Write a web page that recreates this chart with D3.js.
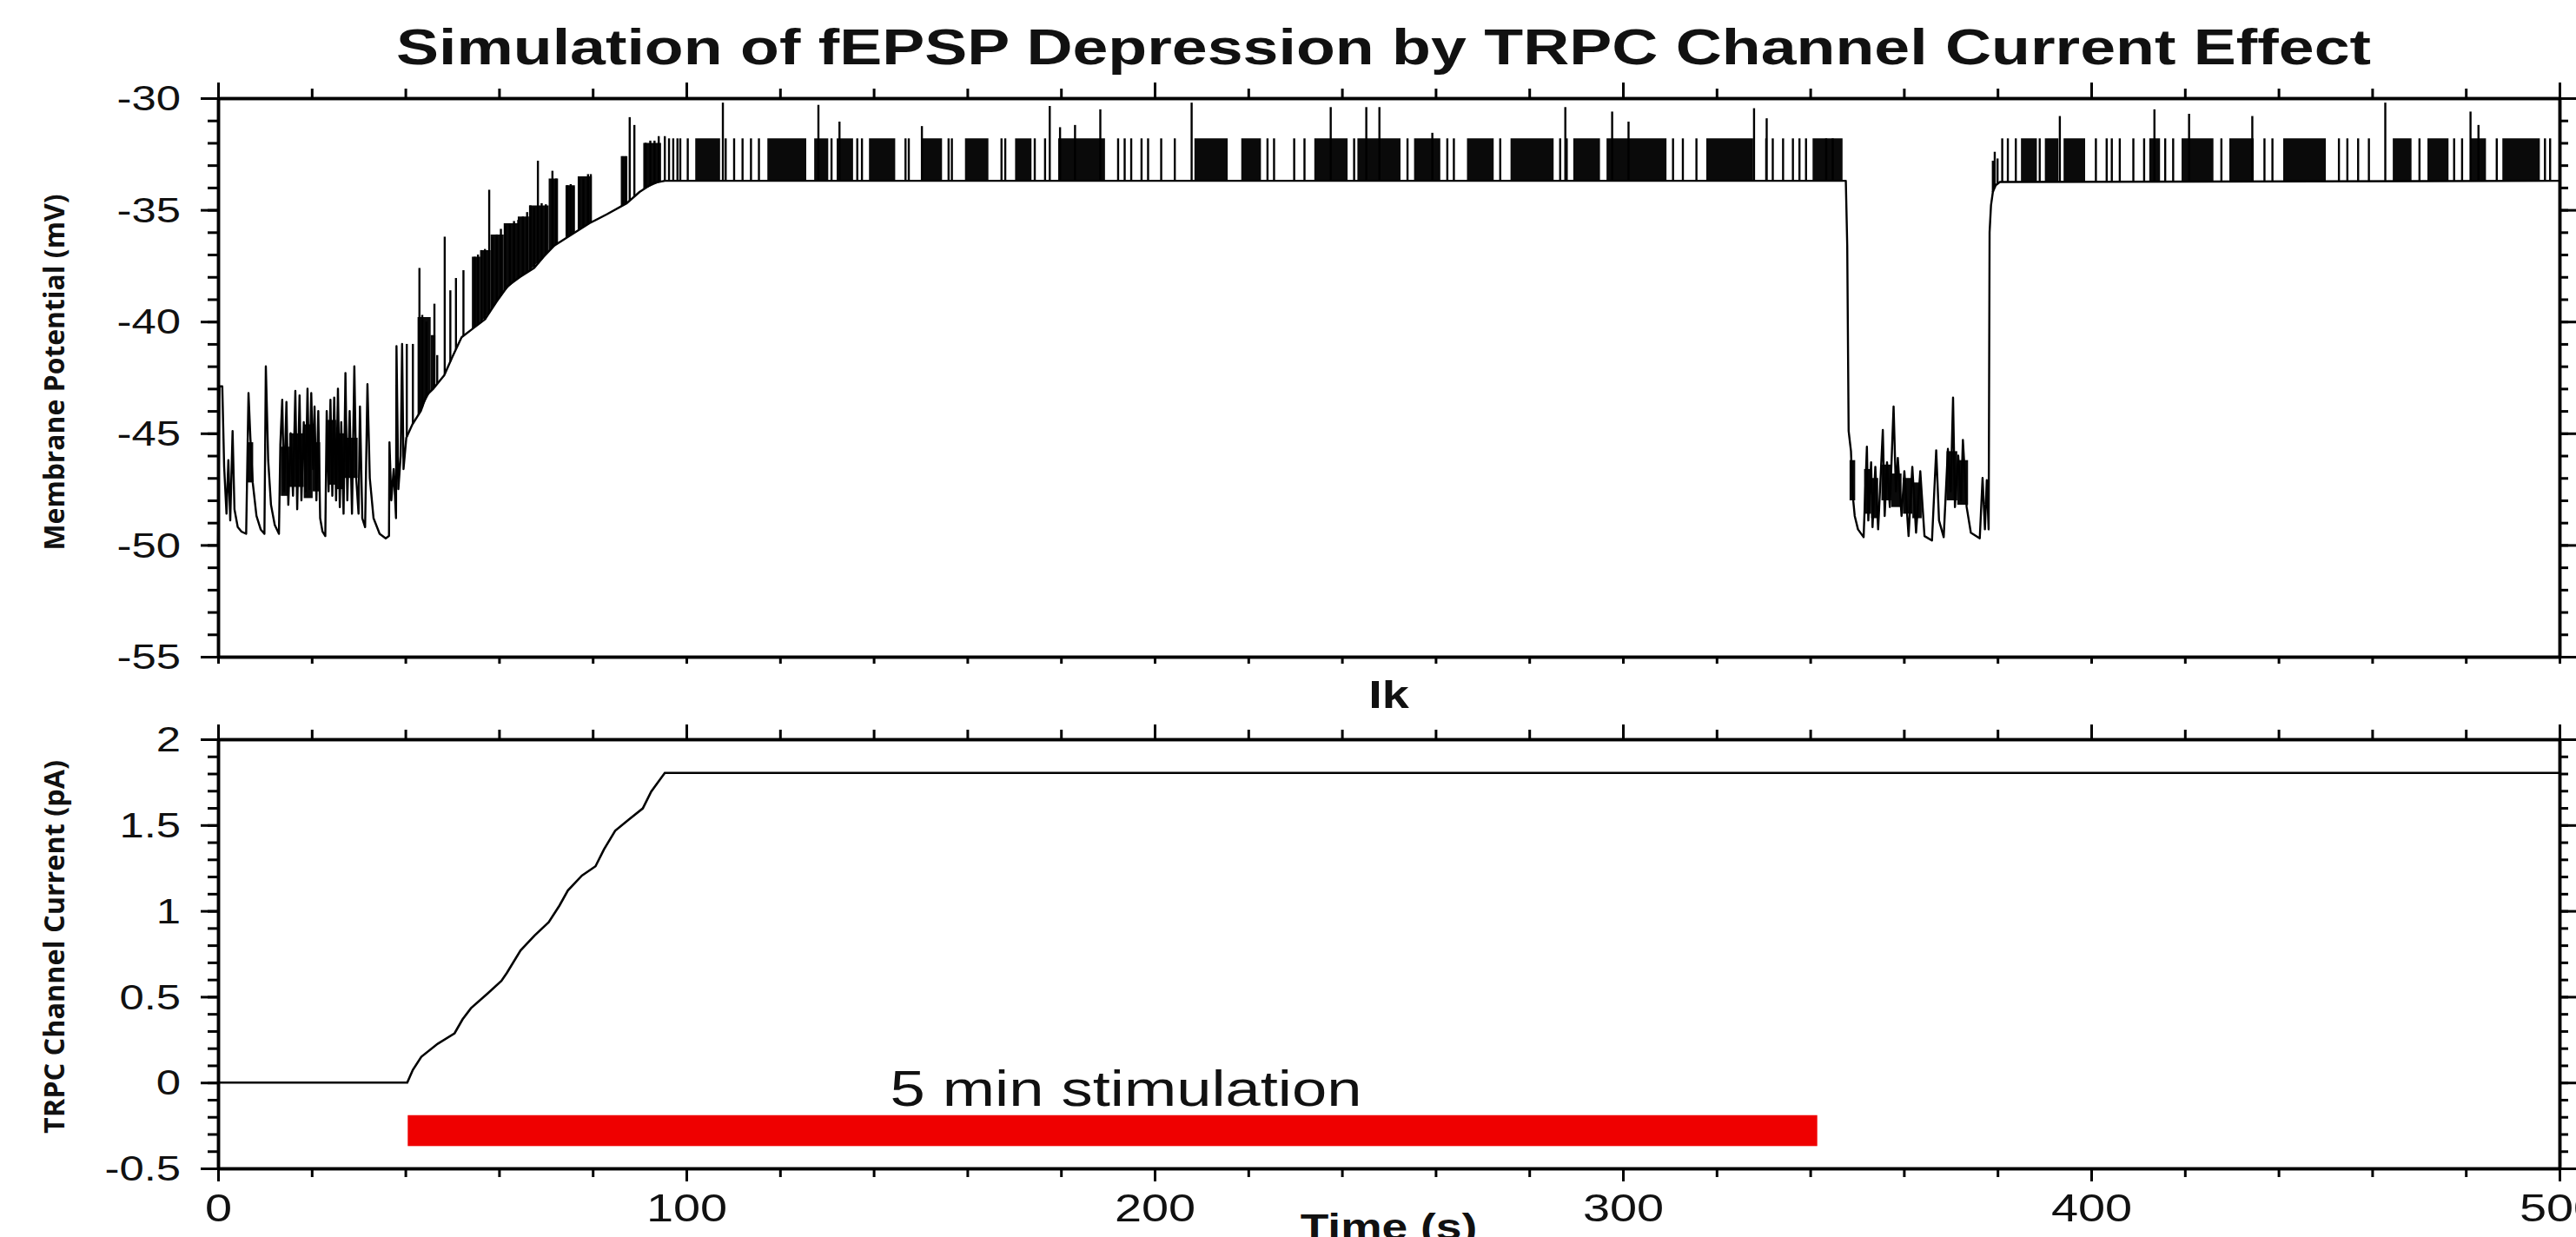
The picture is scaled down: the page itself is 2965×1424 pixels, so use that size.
<!DOCTYPE html>
<html>
<head>
<meta charset="utf-8">
<script src="https://cdn.jsdelivr.net/npm/d3@7"></script>
<style>
body { margin: 0; background: #fff; }
svg { display: block; }
</style>
</head>
<body>
<svg id="chart" width="2965" height="1424"></svg>
<script>
////  data
var titleText = "Simulation of fEPSP Depression by TRPC Channel Current Effect";
var lowerTitle = "Ik";
var xLabel = "Time (s)";
var vmLabel = "Membrane Potential (mV)";
var ikLabel = "TRPC Channel Current (pA)";
var stimLabel = "5 min stimulation";

var timeDomain = [0, 500];
var timeTicks = [0, 100, 200, 300, 400, 500];
var vmDomain = [-55, -30];
var vmTicks = [-55, -50, -45, -40, -35, -30];
var ikDomain = [-0.5, 2];
var ikTicks = [-0.5, 0, 0.5, 1, 1.5, 2];

// membrane potential: [time s, mV] - early bursting, lower envelope of the ramp,
// plateau baseline, the dip around 350-378 s and recovery
var vmTrace = [
	[0,-50.0],[0.3,-42.9],[0.9,-42.9],[1.3,-46.5],[1.8,-48.6],[2.2,-46.2],[2.6,-48.9],[3.1,-44.9],[3.5,-48.4],[4.2,-49.2],
	[5.0,-49.4],[6.0,-49.5],[6.5,-43.2],[6.9,-45.2],[7.4,-47.2],[8.2,-48.7],[9.1,-49.3],[9.9,-49.5],[10.2,-42.0],[10.7,-46.2],
	[11.3,-48.2],[12.1,-49.1],[13.0,-49.5],[13.3,-45.5],[13.7,-43.5],[14.1,-47.6],[14.6,-43.6],[15.0,-48.2],[15.5,-45.0],[16.0,-47.8],
	[16.5,-43.1],[16.9,-48.4],[17.4,-43.3],[17.8,-48.0],[18.3,-44.5],[18.7,-47.6],[19.1,-43.0],[19.5,-47.5],[19.9,-43.2],[20.3,-46.6],
	[20.6,-43.8],[21.0,-48.0],[21.4,-44.0],[21.8,-48.8],[22.3,-49.4],[22.9,-49.6],[23.2,-44.0],[23.6,-47.6],[24.0,-43.5],[24.4,-47.8],
	[24.8,-43.4],[25.2,-48.0],[25.6,-43.0],[26.0,-48.3],[26.3,-44.5],[26.8,-48.6],[27.2,-42.3],[27.6,-48.0],[28.1,-44.0],[28.6,-48.6],
	[29.1,-42.0],[29.5,-47.0],[30.0,-48.6],[30.3,-43.8],[30.8,-48.8],[31.4,-49.2],[31.9,-42.8],[32.4,-47.0],[33.2,-48.8],[34.5,-49.5],
	[35.8,-49.7],[36.5,-49.6],[36.6,-45.4],[37.0,-48.0],[37.5,-46.6],[38.0,-48.8],[38.1,-41.1],[38.5,-47.5],[39.0,-46.0],[39.3,-41.0],
	[39.6,-46.6],[40.2,-45.2],[41.5,-44.6],[43.3,-44.0],[44.5,-43.3],[46.0,-43.0],[48.3,-42.4],[50.0,-41.6],[52.0,-40.7],[54.5,-40.3],
	[57.0,-39.9],[59.5,-39.1],[61.9,-38.4],[64.5,-38.0],[67.5,-37.6],[69.5,-37.1],[71.8,-36.6],[75.5,-36.1],[79.3,-35.6],[83.0,-35.2],
	[87.3,-34.7],[90.0,-34.2],[92.9,-33.8],[95.4,-33.7],[347.6,-33.7],
	[347.9,-36.6],[348.2,-44.9],[348.7,-45.8],[349.0,-47.6],[349.5,-48.7],[350.2,-49.3],[351.4,-49.65],[352.1,-45.6],[352.4,-48.9],[353.0,-46.3],
	[353.3,-49.2],[353.9,-46.5],[354.5,-49.3],[355.5,-44.85],[355.9,-48.7],[356.4,-46.3],[357.0,-48.3],[357.8,-43.8],[358.3,-47.6],[358.7,-46.1],
	[359.5,-48.7],[360.1,-46.7],[361.0,-49.6],[361.8,-46.5],[362.6,-49.45],[363.5,-46.7],[364.4,-49.6],[366.0,-49.8],[366.9,-45.76],[367.5,-48.9],
	[368.5,-49.65],[369.4,-45.7],[370.0,-47.6],[370.5,-43.4],[370.9,-48.3],[371.6,-46.0],[372.2,-48.0],[372.6,-45.3],[373.4,-48.3],[374.3,-49.45],
	[376.2,-49.7],[376.8,-47.0],[377.3,-49.3],[377.7,-47.1],[378.1,-49.3],
	[378.3,-36.0],[378.6,-34.8],[379.0,-34.2],[379.6,-33.9],[380.5,-33.75],[500,-33.7]
];

// dense firing above the trace: [start s, end s, top mV]
var vmBursts = [
	[42.6,45.4,-39.8],[45.4,46.4,-40.6],[54.2,56.0,-37.1],[56.0,58.2,-36.8],[58.2,61.0,-36.1],[61.0,64.0,-35.6],
	[64.0,66.4,-35.3],[66.4,70.6,-34.8],[70.6,72.6,-33.6],[74.2,76.2,-33.9],[76.8,79.8,-33.5],[86.0,87.4,-32.6],[90.8,94.6,-32.0],
	[101.9,107.2,-31.8],[117.3,125.6,-31.8],[127.3,130.3,-31.8],[132.1,135.6,-31.8],[139.0,144.6,-31.8],[150.3,154.6,-31.8],
	[159.5,164.5,-31.8],[170.2,173.7,-31.8],[179.4,189.4,-31.8],[208.5,215.6,-31.8],[218.5,222.7,-31.8],[234.1,241.2,-31.8],
	[243.3,252.5,-31.8],[255.4,261.0,-31.8],[266.7,272.4,-31.8],[276.0,285.2,-31.8],[289.4,295.1,-31.8],[296.5,309.3,-31.8],
	[317.8,327.8,-31.8],[340.5,346.9,-31.8],[385.0,388.4,-31.8],[390.1,393.0,-31.8],[394.1,398.7,-31.8],[412.4,414.7,-31.8],
	[419.3,426.1,-31.8],[429.5,434.7,-31.8],[441.0,450.1,-31.8],[464.4,468.4,-31.8],[471.8,476.3,-31.8],[480.9,484.3,-31.8],
	[487.8,495.8,-31.8]
];

// dense oscillation bands in the low states: [start s, end s, low mV, high mV]
var vmBands = [
	[6.3,7.5,-47.2,-45.4],[13.4,15.2,-47.8,-45.6],[15.2,18.3,-47.4,-45.0],[18.3,20.2,-47.9,-44.6],[20.2,21.8,-47.6,-45.4],
	[23.4,25.2,-47.3,-44.4],[25.2,27.0,-47.5,-45.0],[27.0,29.8,-47.0,-45.2],
	[348.4,349.6,-48.0,-46.2],[351.5,353.0,-48.6,-46.6],[353.0,354.5,-48.8,-47.0],[355.2,357.3,-48.0,-46.4],[357.3,359.5,-48.3,-46.8],
	[359.8,361.8,-48.6,-47.0],[361.8,363.8,-48.8,-47.2],[369.1,371.4,-48.0,-45.8],[371.4,373.7,-48.2,-46.2]
];

// single spikes: [time s, peak mV]
var vmSpikes = [
	[40.3,-41.0],[41.6,-41.0],[43.0,-37.6],[43.6,-39.7],[44.5,-40.0],[46.2,-39.2],[46.8,-41.5],[48.4,-36.2],[49.6,-38.6],[50.8,-38.05],
	[52.4,-37.7],[54.8,-37.1],[55.5,-37.0],[56.2,-36.8],[57.0,-36.75],[57.9,-34.1],[58.6,-36.2],[59.5,-36.1],[60.4,-35.85],[61.3,-35.7],
	[62.3,-35.6],[63.2,-35.5],[64.1,-35.45],[65.1,-35.3],[66.0,-35.1],[66.7,-34.8],[67.5,-34.9],[68.3,-32.8],[69.1,-34.7],[70.0,-34.75],
	[71.4,-33.25],[72.2,-33.6],[74.6,-33.9],[75.3,-33.85],[75.9,-33.96],[77.1,-33.6],[78.0,-33.6],[79.0,-33.4],[79.6,-33.4],[86.4,-32.6],
	[87.0,-32.6],[87.9,-30.85],[88.9,-31.2],[91.3,-32.0],[92.3,-31.9],[93.2,-31.9],[94.1,-31.7],[95.4,-31.7],[96.3,-31.8],[97.2,-31.8],
	[98.1,-31.8],[98.7,-31.8],[100.3,-31.8],[107.8,-30.2],[108.4,-31.8],[110.2,-31.8],[112.0,-31.8],[113.8,-31.8],[115.5,-31.8],
	[128.2,-30.3],[131.0,-31.8],[132.7,-31.05],[136.5,-31.8],[137.5,-31.8],[146.8,-31.8],[147.5,-31.8],[150.3,-31.25],[156.0,-31.8],
	[156.7,-31.8],[167.3,-31.8],[168.1,-31.8],[174.4,-31.8],[176.6,-31.8],[177.6,-30.35],[179.8,-31.3],[183.0,-31.2],[188.4,-30.5],
	[192.2,-31.8],[193.6,-31.8],[195.0,-31.8],[197.2,-31.8],[198.6,-31.8],[201.4,-31.8],[204.3,-31.8],[207.9,-30.2],[224.1,-31.8],
	[225.5,-31.8],[229.8,-31.8],[232.0,-31.8],[237.6,-30.4],[242.6,-31.8],[245.2,-30.4],[248.0,-30.4],[254.0,-31.8],[259.3,-31.55],
	[262.5,-31.8],[263.9,-31.8],[273.8,-31.8],[286.6,-31.8],[287.7,-30.4],[288.0,-31.8],[297.7,-30.6],[301.2,-31.05],[310.7,-31.8],
	[312.8,-31.8],[315.7,-31.8],[328.0,-30.45],[330.6,-31.8],[330.7,-30.9],[332.0,-31.8],[334.2,-31.8],[336.3,-31.8],[337.7,-31.8],
	[339.1,-31.8],[343.4,-31.8],[344.8,-31.8],[379.0,-32.8],[379.4,-32.4],[380.0,-32.7],[381.0,-31.8],[382.2,-31.8],[383.9,-31.8],
	[389.0,-31.8],[393.3,-30.8],[401.0,-31.8],[403.3,-31.8],[404.4,-31.8],[406.1,-31.8],[409.0,-31.8],[411.3,-31.8],[413.5,-30.5],
	[415.8,-31.8],[417.5,-31.8],[420.9,-30.7],[427.8,-31.8],[434.4,-30.8],[437.0,-31.8],[438.7,-31.8],[452.9,-31.8],[454.7,-31.8],
	[457.0,-31.8],[459.3,-31.8],[462.8,-30.2],[470.1,-31.8],[477.5,-31.8],[479.2,-31.8],[481.0,-30.6],[482.7,-31.2],[486.6,-31.8],
	[496.9,-31.8],[498.0,-31.8]
];

// TRPC channel current: [time s, pA]
var ikTrace = [
	[0,0],[40.4,0],[41.6,0.074],[43.4,0.150],[46.9,0.226],[50.5,0.287],[52.2,0.368],[54.0,0.433],[57.6,0.520],[60.5,0.592],
	[61.7,0.640],[64.6,0.770],[67.6,0.857],[70.6,0.934],[72.9,1.031],[74.7,1.119],[77.7,1.206],[80.6,1.260],[82.4,1.358],
	[84.8,1.467],[87.7,1.532],[90.7,1.597],[92.5,1.695],[95.4,1.804],[500,1.804]
];

// stimulation bar: [start s, end s, low pA, high pA]; label anchor [s, pA]
var stimBar = [40.5, 341.5, -0.37, -0.19];
var stimLabelAt = [143.5, -0.136];
////

var layout = { left: 251, right: 2946, top1: 113, bottom1: 756, top2: 851, bottom2: 1345 };
var STRETCH = 1.27;
var FONT = "'Liberation Sans', Arial, sans-serif";

var svg = d3.select("#chart");

var x = d3.scaleLinear().domain(timeDomain).range([layout.left, layout.right]);
var yVm = d3.scaleLinear().domain(vmDomain).range([layout.bottom1, layout.top1]);
var yIk = d3.scaleLinear().domain(ikDomain).range([layout.bottom2, layout.top2]);

var fmt = function(d){ return String(d); };

function addAxis(gen, tx, ty, values, size, labelled){
	var g = svg.append("g")
		.attr("transform", "translate(" + tx + "," + ty + ")")
		.call(gen.tickValues(values).tickSize(size).tickSizeOuter(0).tickFormat(labelled ? fmt : ""));
	g.attr("font-family", FONT);
	g.select(".domain").attr("stroke", "#000").attr("stroke-width", 3.5);
	g.selectAll(".tick line").attr("stroke", "#000").attr("stroke-width", 3);
	return g;
}

function frame(yScale, ticks, minor, top, bottom, o){
	// left
	addAxis(d3.axisLeft(yScale), layout.left, 0, minor, 12, false);
	var lg = addAxis(d3.axisLeft(yScale), layout.left, 0, ticks, 20, true);
	lg.selectAll(".tick text")
		.attr("x", null).attr("dy", "0.34em")
		.attr("font-size", 40).attr("fill", "#111")
		.attr("transform", "translate(-43,0) scale(" + STRETCH + ",1)");
	// right
	addAxis(d3.axisRight(yScale), layout.right, 0, minor, 10, false);
	addAxis(d3.axisRight(yScale), layout.right, 0, ticks, 20, false);
	// top
	addAxis(d3.axisTop(x), 0, top, d3.range(0, 501, 20), o.topMinor, false);
	addAxis(d3.axisTop(x), 0, top, timeTicks, o.topMajor, false);
	// bottom
	addAxis(d3.axisBottom(x), 0, bottom, d3.range(0, 501, 20), o.botMinor, false);
	var bg = addAxis(d3.axisBottom(x), 0, bottom, timeTicks, o.botMajor, o.xLabels);
	if (o.xLabels) {
		bg.selectAll(".tick text")
			.attr("y", null).attr("dy", "0.71em")
			.attr("font-size", 44).attr("fill", "#111")
			.attr("transform", "translate(0,30) scale(" + STRETCH + ",1)");
	}
}

frame(yVm, vmTicks, d3.range(-55, -29.5, 1), layout.top1, layout.bottom1,
	{ topMajor: 18, topMinor: 11, botMajor: 8, botMinor: 8, xLabels: false });
frame(yIk, ikTicks, d3.range(-5, 20.5, 1).map(function(d){ return d / 10; }), layout.top2, layout.bottom2,
	{ topMajor: 17, topMinor: 11, botMajor: 15, botMinor: 10, xLabels: true });

//// membrane potential
var bis = d3.bisector(function(d){ return d[0]; }).left;
function baseAt(t){
	var i = bis(vmTrace, t);
	if (i <= 0) return vmTrace[0][1];
	if (i >= vmTrace.length) return vmTrace[vmTrace.length - 1][1];
	var a = vmTrace[i - 1], b = vmTrace[i];
	return a[1] + (b[1] - a[1]) * (t - a[0]) / (b[0] - a[0]);
}

var burstArea = d3.area()
	.x(function(d){ return x(d[0]); })
	.y0(function(d){ return yVm(d[1]); })
	.y1(function(d){ return yVm(d[2]); });

svg.append("g").selectAll("path")
	.data(vmBursts)
	.enter().append("path")
	.attr("d", function(b){
		return burstArea([[b[0], baseAt(b[0]), b[2]], [b[1], baseAt(b[1]), b[2]]]);
	})
	.attr("fill", "#0a0a0a");

svg.append("g").selectAll("rect")
	.data(vmBands)
	.enter().append("rect")
	.attr("x", function(d){ return x(d[0]); })
	.attr("width", function(d){ return x(d[1]) - x(d[0]); })
	.attr("y", function(d){ return yVm(d[3]); })
	.attr("height", function(d){ return yVm(d[2]) - yVm(d[3]); })
	.attr("fill", "#0a0a0a");

svg.append("g").selectAll("line")
	.data(vmSpikes)
	.enter().append("line")
	.attr("x1", function(d){ return x(d[0]); })
	.attr("x2", function(d){ return x(d[0]); })
	.attr("y1", function(d){ return yVm(baseAt(d[0])); })
	.attr("y2", function(d){ return yVm(d[1]); })
	.attr("stroke", "#000").attr("stroke-width", 2.4);

var vmLine = d3.line()
	.x(function(d){ return x(d[0]); })
	.y(function(d){ return yVm(d[1]); });

svg.append("path").datum(vmTrace)
	.attr("d", vmLine)
	.attr("fill", "none").attr("stroke", "#000")
	.attr("stroke-width", 2.4).attr("stroke-linejoin", "round");

//// TRPC current
var ikLine = d3.line()
	.x(function(d){ return x(d[0]); })
	.y(function(d){ return yIk(d[1]); });

svg.append("path").datum(ikTrace)
	.attr("d", ikLine)
	.attr("fill", "none").attr("stroke", "#000").attr("stroke-width", 2.6);

svg.append("rect")
	.attr("x", x(stimBar[0]))
	.attr("y", yIk(stimBar[3]))
	.attr("width", x(stimBar[1]) - x(stimBar[0]))
	.attr("height", yIk(stimBar[2]) - yIk(stimBar[3]))
	.attr("fill", "#ef0000");

svg.append("text")
	.attr("x", x(stimLabelAt[0])).attr("y", yIk(stimLabelAt[1]))
	.attr("font-family", FONT).attr("font-size", 57).attr("fill", "#111")
	.attr("textLength", 543).attr("lengthAdjust", "spacingAndGlyphs")
	.text(stimLabel);

//// titles and labels
var midX = (layout.left + layout.right) / 2;

svg.append("text")
	.attr("x", midX - 6).attr("y", 74)
	.attr("text-anchor", "middle")
	.attr("font-family", FONT).attr("font-weight", "bold").attr("font-size", 58).attr("fill", "#111")
	.attr("textLength", 2273).attr("lengthAdjust", "spacingAndGlyphs")
	.text(titleText);

svg.append("text")
	.attr("transform", "translate(" + midX + ",815) scale(" + STRETCH + ",1)")
	.attr("text-anchor", "middle")
	.attr("font-family", FONT).attr("font-weight", "bold").attr("font-size", 44).attr("fill", "#111")
	.text(lowerTitle);

svg.append("text")
	.attr("transform", "translate(" + midX + ",1427) scale(" + STRETCH + ",1)")
	.attr("text-anchor", "middle")
	.attr("font-family", FONT).attr("font-weight", "bold").attr("font-size", 42).attr("fill", "#111")
	.text(xLabel);

function yTitle(text, cy, len){
	svg.append("text")
		.attr("transform", "translate(74," + cy + ") rotate(-90)")
		.attr("text-anchor", "middle")
		.attr("font-family", "'Open Sans', sans-serif").attr("font-weight", "bold")
		.attr("font-size", 33).attr("fill", "#111")
		.attr("textLength", len).attr("lengthAdjust", "spacingAndGlyphs")
		.text(text);
}
yTitle(vmLabel, (layout.top1 + layout.bottom1) / 2 - 6, 410);
yTitle(ikLabel, (layout.top2 + layout.bottom2) / 2 - 8, 430);
</script>
</body>
</html>
